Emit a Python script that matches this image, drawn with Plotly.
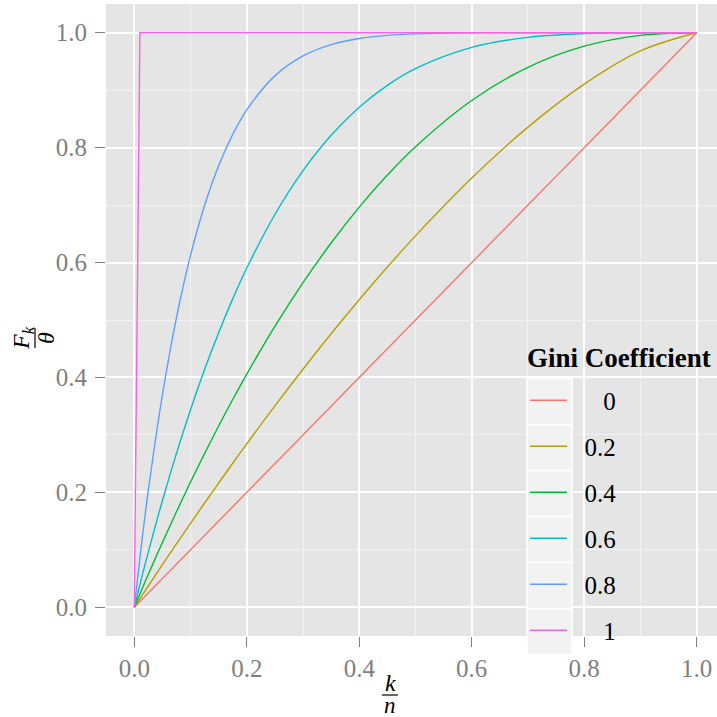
import plotly.graph_objects as go

# ---- data ----
gini_labels = ["0", "0.2", "0.4", "0.6", "0.8", "1"]
colors = ["#F8766D", "#B79F00", "#00BA38", "#00BFC4", "#619CFF", "#F564E3"]

x_share = [0, 0.0125, 0.025, 0.05, 0.075, 0.1, 0.125, 0.15, 0.175, 0.2, 0.25,
           0.3, 0.35, 0.4, 0.45, 0.5, 0.6, 0.7, 0.8, 0.9, 1.0]
y_g00 = [0, 0.0125, 0.025, 0.05, 0.075, 0.1, 0.125, 0.15, 0.175, 0.2, 0.25,
         0.3, 0.35, 0.4, 0.45, 0.5, 0.6, 0.7, 0.8, 0.9, 1.0]
y_g02 = [0, 0.0187, 0.0373, 0.0741, 0.1104, 0.1462, 0.1815, 0.2163, 0.2507, 0.2845, 0.3505,
         0.4143, 0.4760, 0.5352, 0.5921, 0.6464, 0.7470, 0.8357, 0.9106, 0.9684, 1.0]
y_g04 = [0, 0.0289, 0.0574, 0.1128, 0.1663, 0.2180, 0.2677, 0.3156, 0.3616, 0.4059, 0.4889,
         0.5649, 0.6340, 0.6964, 0.7522, 0.8016, 0.8821, 0.9398, 0.9766, 0.9954, 1.0]
y_g06 = [0, 0.0491, 0.0963, 0.1855, 0.2679, 0.3439, 0.4138, 0.4780, 0.5368, 0.5904, 0.6836,
         0.7599, 0.8215, 0.8704, 0.9085, 0.9375, 0.9744, 0.9919, 0.9984, 0.9999, 1.0]
y_g08 = [0, 0.1070, 0.2038, 0.3698, 0.5042, 0.6126, 0.6993, 0.7684, 0.8230, 0.8658, 0.9249,
         0.9596, 0.9793, 0.9899, 0.9954, 0.9980, 0.9997, 1.0, 1.0, 1.0, 1.0]
x_g10 = [0, 0.01, 1.0]
y_g10 = [0, 1.0, 1.0]

series_x = [x_share, x_share, x_share, x_share, x_share, x_g10]
series_y = [y_g00, y_g02, y_g04, y_g06, y_g08, y_g10]

xtick_vals = [0, 0.2, 0.4, 0.6, 0.8, 1.0]
xtick_text = ["0.0", "0.2", "0.4", "0.6", "0.8", "1.0"]
ytick_vals = [0, 0.2, 0.4, 0.6, 0.8, 1.0]
ytick_text = ["0.0", "0.2", "0.4", "0.6", "0.8", "1.0"]
minor_vals = [0.1, 0.3, 0.5, 0.7, 0.9]
legend_title = "Gini Coefficient"

# ---- layout helpers (pixel -> paper) ----
W, H = 717, 717
L, R, T, B = 106, 0, 4, 81
PW, PH = W - L - R, H - T - B


def px(x):
    return (x - L) / PW


def py(y):
    return (H - B - y) / PH


FONT = "Liberation Serif"
GREY = "#7F7F7F"
NB = "\u00a0"

fig = go.Figure()
for lab, col, xs, ys in zip(gini_labels, colors, series_x, series_y):
    pad = NB * (5 if len(lab) == 1 else 2)
    fig.add_trace(go.Scatter(
        x=xs, y=ys, mode="lines", name=pad + lab, legendgroup=lab,
        line=dict(color=col, width=1.4, shape="spline" if len(xs) > 3 else "linear"),
    ))

axis_common = dict(
    showgrid=True, gridcolor="white", gridwidth=1.6,
    zeroline=False, showline=False,
    ticks="outside", ticklen=10, tickwidth=1.3, tickcolor=GREY,
    tickfont=dict(family=FONT, size=25, color=GREY),
    minor=dict(tickvals=minor_vals, showgrid=True, gridcolor="#F2F2F2", gridwidth=0.9, ticks=""),
)
fig.update_xaxes(range=[-0.0503, 1.0361], tickvals=xtick_vals, ticktext=xtick_text, **axis_common)
fig.update_yaxes(range=[-0.05, 1.05], tickvals=ytick_vals, ticktext=ytick_text,
                 ticklabelstandoff=3, **axis_common)

shapes = []
# legend key boxes
for i in range(6):
    top = 378.5 + 46 * i
    shapes.append(dict(type="rect", xref="paper", yref="paper", layer="above",
                       x0=px(527), x1=px(572), y0=py(top), y1=py(top + 46),
                       fillcolor="#F2F2F2", line=dict(color="white", width=1.5)))
# fraction bars for axis titles
shapes.append(dict(type="line", xref="paper", yref="paper", x0=px(382), x1=px(398),
                   y0=py(695), y1=py(695), line=dict(color="black", width=1.2)))
shapes.append(dict(type="line", xref="paper", yref="paper", x0=px(35), x1=px(35),
                   y0=py(328), y1=py(348), line=dict(color="black", width=1.2)))

annotations = [
    dict(text="<i>k</i>", x=px(390), y=py(683), xref="paper", yref="paper",
         showarrow=False, xanchor="center", yanchor="middle",
         font=dict(family=FONT, size=24, color="black")),
    dict(text="<i>n</i>", x=px(390), y=py(705), xref="paper", yref="paper",
         showarrow=False, xanchor="center", yanchor="middle",
         font=dict(family=FONT, size=23, color="black")),
    dict(text="<i>F<sub>k</sub></i>", x=px(23), y=py(338), xref="paper", yref="paper",
         showarrow=False, xanchor="center", yanchor="middle", textangle=-90,
         font=dict(family=FONT, size=24, color="black")),
    dict(text="<i>θ</i>", x=px(46), y=py(338), xref="paper", yref="paper",
         showarrow=False, xanchor="center", yanchor="middle", textangle=-90,
         font=dict(family=FONT, size=24, color="black")),
    dict(text="<b>" + legend_title + "</b>", x=px(525), y=py(358), xref="paper", yref="paper",
         showarrow=False, xanchor="left", yanchor="middle",
         font=dict(family=FONT, size=27, color="black")),
]

fig.update_layout(
    width=W, height=H,
    margin=dict(l=L, r=R, t=T, b=B, pad=0),
    plot_bgcolor="#E5E5E5", paper_bgcolor="white",
    font=dict(family=FONT),
    shapes=shapes, annotations=annotations,
    showlegend=True,
    legend=dict(
        font=dict(family=FONT, size=25, color="black"),
        bgcolor="rgba(0,0,0,0)", borderwidth=0,
        x=px(525), y=py(377.5), xanchor="left", yanchor="top",
        tracegroupgap=10.5, itemwidth=37,
    ),
)

fig.write_html("out.html", config={"displayModeBar": False},
               post_script="document.body.style.margin='0';")
